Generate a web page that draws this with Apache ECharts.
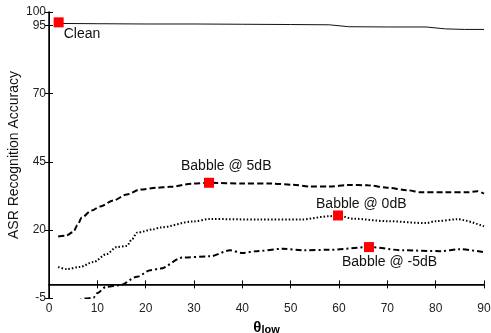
<!DOCTYPE html>
<html>
<head>
<meta charset="utf-8">
<script src="https://cdn.jsdelivr.net/npm/echarts@6/dist/echarts.min.js"></script>
<style>
  html, body { margin: 0; padding: 0; background: #fff; }
  #chart { width: 491px; height: 333px; }
</style>
</head>
<body>
<div id="chart"></div>
<script>
// theta_low values and accuracies
const cleanX = [2, 10, 20, 30, 40, 50, 58, 62, 70, 78, 82, 86, 90];
const cleanY = [95.8, 95.7, 95.6, 95.6, 95.5, 95.4, 95.3, 94.6, 94.5, 94.5, 93.8, 93.6, 93.6];

const b5X = [1.9, 3.5, 5.0, 5.9, 6.8, 8.8, 10.6, 13.3, 16.1, 18.8, 22.3, 25, 29.8, 33.1, 40, 46, 50.5, 54, 58, 62, 66, 70, 74, 77, 82, 86.5, 88.6, 90];
const b5Y = [17.6, 17.9, 19.2, 21.8, 24.6, 27.1, 28.6, 30.8, 33, 34.8, 35.5, 35.8, 37, 37.3, 37, 37, 36.6, 35.9, 35.9, 36.5, 36.4, 35.5, 34.6, 33.8, 33.8, 33.8, 34.2, 33.3];

const b0X = [1.9, 3.7, 6.4, 9.2, 11.9, 14, 16.1, 17.2, 18.2, 21.6, 23, 29.8, 33.3, 43.7, 52, 58, 59.8, 63, 70, 78, 80, 84.5, 90];
const b0Y = [6.4, 5.6, 6.4, 8.2, 11.1, 13.7, 14.1, 16.6, 19.0, 20.2, 20.9, 23.1, 24, 23.8, 23.8, 25, 25.3, 24.1, 23.2, 22.5, 23.2, 23.9, 21.3];

const bm5X = [2, 6, 7.5, 9.2, 9.9, 11.8, 14.7, 18.2, 21, 23, 27.7, 33.3, 37.5, 40, 43, 48.4, 52.6, 58, 66.2, 73.3, 81, 85, 90];
const bm5Y = [-9, -5.8, -5.2, -4.9, -3.3, -0.9, -0.3, 2.8, 5.2, 5.8, 9.9, 10.3, 12.5, 11.5, 12.2, 13.1, 12.5, 12.7, 13.7, 12.5, 12.2, 12.9, 11.8];

// red square markers and their labels
const markerNames = ["Clean", "Babble @ 5dB", "Babble @ 0dB", "Babble @ -5dB"];
const markerX = [2, 33.1, 59.8, 66.2];
const markerY = [96.2, 37.3, 25.3, 13.7];
const labelOffsets = [[5, 12], [-28, -17], [-22, -11], [-27, 15]];

const pairs = (xs, ys) => xs.map((x, i) => [x, ys[i]]);

const chart = echarts.init(document.getElementById("chart"), null, { renderer: "canvas" });

const font = "Liberation Sans, Arial, sans-serif";
const tickFont = { fontFamily: font, fontSize: 12, color: "#222" };
const axisLine = { lineStyle: { color: "#000", width: 1.5 } };
const tick = { inside: true, length: 4, lineStyle: { color: "#000" } };

chart.setOption({
  animation: false,
  backgroundColor: "#fff",
  grid: { left: 49, right: 7, top: 12, bottom: 35, outerBoundsMode: "none", containLabel: false },
  xAxis: [
    {
      type: "value",
      min: 0,
      max: 90,
      interval: 10,
      axisLine: axisLine,
      axisTick: tick,
      axisLabel: { ...tickFont, margin: 5 },
      splitLine: { show: false },
      name: "{t|θ}{s|low}",
      nameLocation: "middle",
      nameGap: 15,
      nameTextStyle: {
        rich: {
          t: { fontFamily: font, fontSize: 15, fontWeight: "bold", color: "#000" },
          s: { fontFamily: font, fontSize: 11, fontWeight: "bold", color: "#000", padding: [6, 0, 0, 0] }
        }
      }
    },
    {
      type: "value",
      position: "top",
      min: 0,
      max: 90,
      interval: 10,
      axisLine: { lineStyle: { color: "#000", width: 1 } },
      axisTick: tick,
      axisLabel: { show: false },
      splitLine: { show: false }
    }
  ],
  yAxis: [
    {
      type: "value",
      min: -5,
      max: 100,
      interval: 25,
      axisLine: axisLine,
      axisTick: tick,
      axisLabel: { ...tickFont, margin: 3 },
      splitLine: { show: false },
      name: "ASR Recognition Accuracy",
      nameLocation: "middle",
      nameMoveOverlap: false,
      nameGap: 28,
      nameTextStyle: { fontFamily: font, fontSize: 14, color: "#111" }
    },
    {
      type: "value",
      position: "right",
      min: -5,
      max: 100,
      interval: 25,
      axisLine: { lineStyle: { color: "#000", width: 1 } },
      axisTick: tick,
      axisLabel: { show: false },
      splitLine: { show: false }
    }
  ],
  series: [
    {
      type: "line",
      data: pairs(cleanX, cleanY),
      showSymbol: false,
      lineStyle: { color: "#111", width: 1 }
    },
    {
      type: "line",
      data: pairs(b5X, b5Y),
      showSymbol: false,
      smooth: 0.3,
      smoothMonotone: "x",
      lineStyle: { color: "#000", width: 2, type: [6, 3] }
    },
    {
      type: "line",
      data: pairs(b0X, b0Y),
      showSymbol: false,
      smooth: 0.3,
      smoothMonotone: "x",
      lineStyle: { color: "#000", width: 2, type: [1.5, 2] }
    },
    {
      type: "line",
      data: pairs(bm5X, bm5Y),
      showSymbol: false,
      smooth: 0.3,
      smoothMonotone: "x",
      lineStyle: { color: "#000", width: 2, type: [6, 3, 2, 3] }
    },
    {
      type: "scatter",
      z: 10,
      symbol: "rect",
      symbolSize: 10,
      itemStyle: { color: "#ff0000", opacity: 1 },
      data: markerNames.map((name, i) => ({
        name: name,
        value: [markerX[i], markerY[i]],
        label: {
          show: true,
          position: "inside",
          align: "left",
          verticalAlign: "middle",
          offset: labelOffsets[i],
          formatter: "{b}",
          fontFamily: font,
          fontSize: 14,
          color: "#111"
        }
      }))
    }
  ]
});
</script>
</body>
</html>
